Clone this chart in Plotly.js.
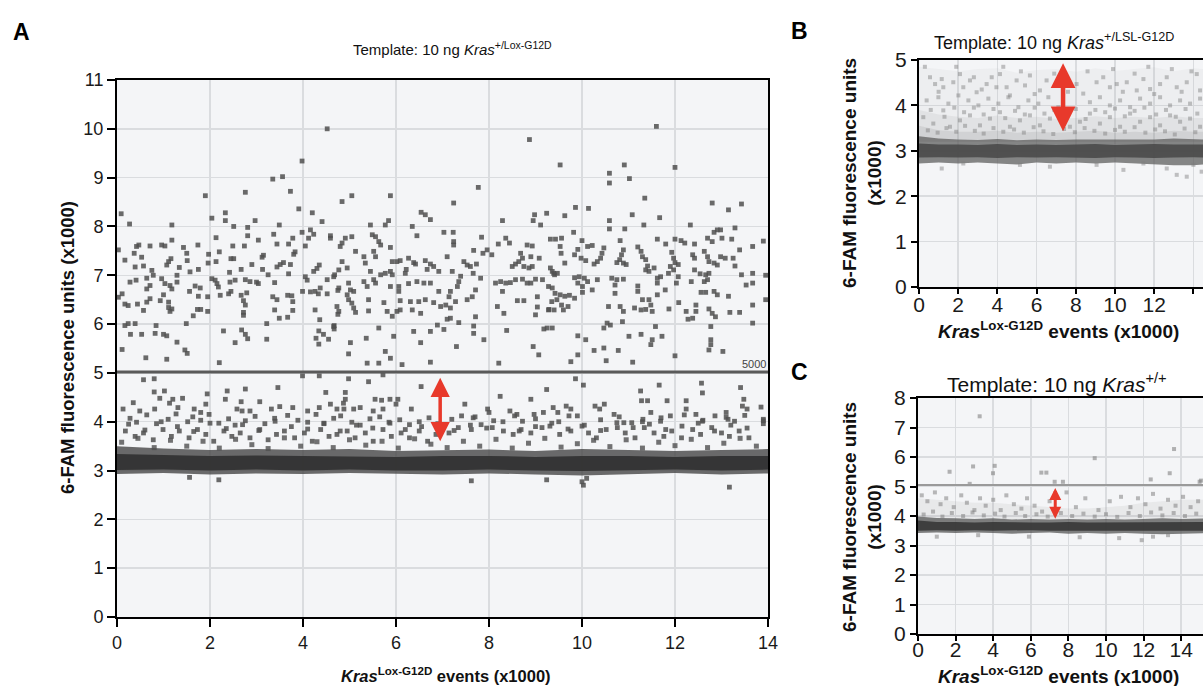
<!DOCTYPE html>
<html><head><meta charset="utf-8">
<script src="https://cdn.plot.ly/plotly-3.0.1.min.js"></script>
<style>html,body{margin:0;padding:0;background:#fff}#chart{width:1203px;height:686px}</style>
</head><body><div id="chart"></div>
<script>
// ---------- Panel A data ----------
const aTitle = "Template: 10 ng <i>Kras</i><sup>+/Lox-G12D</sup>";
const aThreshold = 5.02;
const aThresholdLabel = "5000";
const aBandX =   [0,1,2,3,4,5,6,7,8,9,10,11,12,13,14];
const aOuterTop = [3.5,3.45,3.42,3.44,3.42,3.44,3.4,3.42,3.43,3.4,3.44,3.42,3.4,3.42,3.44];
const aOuterBot = [2.93,2.95,2.92,2.94,2.93,2.95,2.93,2.92,2.94,2.92,2.9,2.93,2.95,2.92,2.94];
const aCoreTop =  [3.34,3.32,3.3,3.31,3.3,3.3,3.28,3.3,3.3,3.28,3.3,3.3,3.28,3.3,3.3];
const aCoreBot =  [3.01,3.02,3.0,3.02,3.0,3.02,3.0,3.0,3.02,3.0,2.99,3.0,3.02,3.0,3.02];
// upper (mutant-positive) cluster
const aUpperLeft = [[4.52,10.0],[3.98,9.34],[3.35,8.97],[3.56,9.02],[3.73,8.72],[2.76,8.70],[1.90,8.63],[3.91,8.36],[4.20,8.28],[2.33,8.28],[2.33,8.12],[2.04,8.17],[2.97,8.12],[4.41,8.10],[0.09,8.26],[0.27,8.05],[1.18,8.03],[2.51,8.0],[2.81,7.98],[2.81,7.81],[3.49,8.03],[3.37,7.84],[3.98,7.88],[4.16,7.93],[4.23,7.84],[4.12,7.76],[4.59,7.76],[2.13,7.77],[1.18,7.72],[0.47,7.62],[0.42,7.59],[0.71,7.6],[0.96,7.62],[1.03,7.6],[1.43,7.57],[1.74,7.62],[2.49,7.6],[2.74,7.6],[3.04,7.72],[3.44,7.64],[3.69,7.64],[3.78,7.76],[4.05,7.6],[3.83,7.48],[3.80,7.43],[0.37,7.45],[0.53,7.37],[1.50,7.45],[1.97,7.43],[2.20,7.48],[3.15,7.41],[3.12,7.37],[0.17,7.31],[1.16,7.34],[1.11,7.28],[1.07,7.21],[1.51,7.3],[2.45,7.34],[2.51,7.34],[1.96,7.25],[2.13,7.28],[0.39,7.17],[0.57,7.19],[0.75,7.1],[0.78,7.0],[1.34,7.16],[2.67,7.12],[2.90,7.22],[3.13,7.12],[3.44,7.17],[3.51,7.22],[3.58,7.26],[3.73,7.22],[4.35,7.21],[4.3,7.14],[4.23,7.08],[1.57,7.07],[1.75,7.12],[1.29,7.0],[2.42,7.06],[3.25,7.01],[3.69,7.03],[4.05,6.97],[4.09,6.9],[4.52,6.91],[4.66,6.97],[0.28,6.86],[0.41,6.9],[0.64,6.94],[0.96,6.93],[1.03,6.83],[2.04,6.93],[2.11,6.9],[2.15,6.83],[2.18,6.76],[2.43,6.86],[2.54,6.9],[2.76,6.91],[2.86,6.87],[3.0,6.86],[3.04,6.83],[3.39,6.85],[0.71,6.79],[0.64,6.72],[1.14,6.79],[1.18,6.72],[1.29,6.86],[1.56,6.67],[1.68,6.78],[1.79,6.74],[2.40,6.62],[2.45,6.67],[2.79,6.64],[3.99,6.67],[4.16,6.66],[4.26,6.67],[4.33,6.62],[4.37,6.74],[4.52,6.62],[4.75,6.69],[0.11,6.62],[0.17,6.41],[0.24,6.38],[0.44,6.41],[0.57,6.28],[0.64,6.45],[0.71,6.52],[0.93,6.48],[1.0,6.6],[1.11,6.45],[1.11,6.34],[1.14,6.26],[1.18,6.31],[1.75,6.57],[1.95,6.56],[1.73,6.3],[1.80,6.3],[1.95,6.26],[1.64,6.17],[2.22,6.59],[2.67,6.59],[2.72,6.48],[2.76,6.39],[2.72,6.24],[2.72,6.18],[3.35,6.56],[3.44,6.5],[3.39,6.29],[3.49,6.12],[3.67,6.59],[3.76,6.58],[3.78,6.46],[3.78,6.28],[3.67,6.14],[4.26,6.29],[4.36,6.09],[4.75,6.2],[0.17,5.97],[0.24,6.01],[0.39,6.01],[0.84,5.97],[1.49,6.01],[3.22,6.01],[4.67,5.9],[4.67,5.97],[0.29,5.79],[0.53,5.79],[0.82,5.81],[1.0,5.79],[1.07,5.76],[1.29,5.63],[1.46,5.47],[1.51,5.4],[2.29,5.86],[2.68,5.88],[2.76,5.79],[2.81,5.7],[2.54,5.62],[3.22,5.69],[4.34,5.86],[4.44,5.79],[4.55,5.69],[4.28,5.71],[4.34,5.59],[0.11,5.48],[0.62,5.31],[1.07,5.28],[2.2,5.21],[0.03,7.52],[0.03,6.55]];
const aUpperMid = [[8.87,9.78],[7.77,8.80],[4.84,8.51],[5.05,8.63],[5.88,8.63],[7.24,8.48],[6.54,8.29],[6.63,8.24],[6.74,8.14],[8.29,8.12],[8.98,8.24],[8.95,8.12],[9.11,8.03],[9.24,8.27],[5.45,8.03],[5.77,8.03],[5.84,8.12],[6.35,8.0],[6.45,7.81],[7.03,7.88],[7.23,7.88],[7.24,7.69],[7.24,7.62],[7.84,7.78],[8.2,7.64],[8.36,7.76],[8.44,7.66],[8.82,7.62],[8.93,7.6],[9.43,7.74],[4.59,7.81],[4.91,7.76],[4.84,7.66],[4.8,7.59],[5.05,7.79],[5.49,7.83],[5.56,7.79],[5.63,7.69],[5.67,7.62],[5.88,7.57],[5.13,7.49],[5.52,7.49],[5.56,7.38],[5.31,7.38],[5.34,7.25],[4.84,7.28],[7.1,7.38],[7.67,7.51],[7.87,7.45],[7.96,7.52],[8.06,7.42],[8.68,7.45],[8.72,7.35],[8.64,7.28],[8.57,7.23],[8.5,7.18],[9.08,7.35],[8.9,7.38],[5.92,7.28],[6.02,7.28],[6.09,7.3],[6.27,7.35],[6.38,7.26],[6.63,7.3],[6.74,7.23],[6.81,7.18],[7.46,7.28],[7.53,7.21],[7.6,7.18],[7.73,7.23],[4.68,7.01],[4.77,7.11],[4.95,7.15],[5.45,7.08],[5.67,7.01],[5.77,7.04],[5.88,7.08],[5.92,7.01],[6.22,7.12],[6.2,7.04],[6.42,7.23],[6.67,7.12],[6.92,7.08],[7.21,7.08],[7.39,6.98],[7.35,6.87],[7.32,6.77],[7.66,7.04],[7.82,6.94],[8.14,6.84],[8.25,6.87],[8.36,6.84],[8.46,6.85],[8.57,6.91],[8.72,6.92],[8.82,6.84],[8.9,6.84],[9.0,6.92],[9.15,6.91],[9.36,7.08],[9.41,7.01],[9.47,7.04],[8.75,7.18],[8.86,7.15],[8.93,7.18],[4.77,6.74],[4.98,6.84],[5.02,6.7],[4.95,6.6],[5.09,6.67],[5.31,6.87],[5.38,6.77],[5.52,6.91],[5.56,6.84],[5.88,6.77],[6.06,6.77],[6.06,6.67],[6.27,6.83],[6.45,6.87],[6.6,6.84],[6.74,6.84],[6.92,6.67],[7.17,6.67],[7.14,6.56],[7.53,6.5],[7.64,6.56],[7.71,6.7],[8.29,6.67],[9.36,6.74],[4.98,6.5],[5.05,6.43],[5.09,6.33],[5.13,6.24],[4.73,6.36],[4.77,6.26],[5.41,6.5],[5.41,6.27],[5.74,6.44],[5.81,6.26],[5.92,6.16],[6.02,6.26],[6.09,6.29],[6.09,6.48],[6.31,6.46],[6.49,6.46],[6.63,6.5],[6.81,6.44],[6.96,6.36],[6.35,6.29],[6.53,6.22],[7.07,6.39],[7.17,6.33],[7.28,6.46],[7.71,6.15],[8.18,6.36],[8.32,6.22],[8.61,6.48],[8.75,6.48],[9.04,6.56],[9.04,6.35],[9.0,6.19],[9.29,6.3],[9.4,6.29],[4.66,5.95],[5.63,5.92],[5.95,5.75],[5.36,5.71],[5.02,5.62],[4.98,5.39],[6.38,5.85],[6.53,5.62],[6.74,5.85],[6.89,5.98],[7.03,5.89],[7.1,6.1],[7.17,6.12],[7.35,6.03],[7.67,5.96],[7.67,5.81],[7.89,5.68],[7.3,5.54],[8.38,5.87],[9.18,5.9],[9.36,5.92],[8.95,5.54],[9.07,5.37],[5.63,5.2],[5.38,5.2],[5.77,5.44],[5.88,5.3],[6.13,5.17],[6.74,5.22],[8.21,5.2]];
const aUpperRight = [[11.6,10.05],[9.53,9.26],[10.91,9.26],[12.0,9.21],[10.59,9.09],[10.59,8.89],[11.02,8.98],[11.35,8.58],[12.8,8.48],[13.43,8.46],[13.15,8.34],[9.86,8.39],[10.14,8.37],[9.63,8.22],[11.08,8.24],[11.67,8.18],[10.59,8.12],[10.59,7.95],[10.92,7.95],[11.33,8.03],[12.33,8.03],[12.91,7.93],[12.98,7.93],[12.84,7.88],[13.29,7.97],[9.82,7.88],[9.32,7.74],[9.56,7.76],[10.0,7.71],[10.12,7.59],[10.22,7.61],[9.91,7.53],[9.84,7.42],[9.53,7.59],[9.55,7.45],[10.82,7.71],[11.62,7.74],[11.8,7.64],[12.0,7.74],[12.13,7.71],[12.21,7.66],[12.42,7.64],[12.7,7.76],[12.8,7.69],[13.01,7.76],[13.22,7.74],[13.39,7.52],[13.67,7.59],[10.47,7.56],[10.43,7.45],[10.4,7.35],[10.33,7.28],[10.26,7.23],[9.98,7.35],[10.08,7.3],[10.89,7.52],[10.85,7.42],[10.81,7.32],[10.89,7.25],[10.95,7.22],[10.75,7.26],[11.2,7.58],[11.27,7.49],[11.3,7.38],[11.37,7.32],[11.41,7.19],[11.93,7.47],[11.97,7.35],[12.0,7.26],[12.07,7.22],[12.38,7.42],[12.42,7.35],[12.63,7.49],[12.7,7.38],[12.73,7.28],[12.98,7.38],[13.08,7.35],[12.91,7.21],[12.84,7.25],[13.25,7.35],[13.29,7.19],[9.63,7.25],[9.32,7.15],[9.39,7.04],[11.37,7.11],[11.44,7.08],[11.55,7.15],[11.9,7.18],[11.97,7.11],[11.86,7.04],[12.42,7.11],[12.54,7.03],[12.66,7.01],[12.73,7.04],[13.43,7.01],[13.67,7.04],[9.84,6.95],[9.94,6.97],[10.05,6.94],[10.12,6.87],[10.33,6.91],[10.64,6.94],[10.75,6.91],[10.89,6.92],[11.62,6.94],[11.69,6.97],[11.62,6.84],[12.07,6.97],[12.03,6.84],[12.35,6.87],[12.63,6.87],[12.7,6.91],[13.53,6.8],[13.67,6.84],[9.28,6.77],[9.91,6.84],[10.01,6.77],[10.22,6.7],[10.71,6.8],[10.71,6.63],[11.2,6.78],[11.2,6.67],[11.79,6.7],[11.62,6.6],[9.42,6.63],[9.53,6.6],[9.63,6.57],[9.73,6.59],[9.84,6.53],[10.01,6.65],[12.56,6.65],[12.66,6.65],[12.84,6.67],[12.91,6.6],[13.15,6.57],[9.35,6.46],[9.46,6.5],[9.56,6.39],[9.6,6.29],[9.7,6.36],[9.28,6.29],[10.57,6.36],[10.82,6.36],[10.89,6.26],[11.13,6.33],[11.3,6.5],[11.44,6.5],[11.48,6.39],[11.51,6.26],[11.27,6.29],[11.37,6.3],[11.87,6.31],[12.08,6.44],[12.24,6.26],[12.28,6.1],[12.38,6.12],[12.45,6.39],[12.45,6.26],[12.73,6.31],[12.8,6.22],[12.87,6.15],[13.18,6.24],[13.39,6.24],[13.67,6.39],[13.67,6.02],[9.25,5.92],[10.87,6.05],[10.54,6.02],[10.61,5.98],[10.47,5.92],[11.58,5.95],[12.77,5.95],[11.27,5.79],[11.01,5.75],[11.51,5.68],[11.48,5.58],[11.72,5.75],[9.91,5.76],[10.08,5.68],[12.77,5.68],[12.77,5.58],[12.73,5.47],[13.03,5.44],[10.47,5.51],[10.26,5.46],[10.78,5.46],[9.91,5.37],[9.76,5.23],[10.52,5.25],[11.09,5.22],[12.0,5.35],[13.95,7.0],[13.95,6.5],[13.9,7.7]];
// lower (wild-type) scatter above the dense band
const aLowerSparse = [[0.57,4.86],[0.8,4.88],[3.46,4.7],[3.99,4.94],[4.35,4.94],[4.98,4.88],[5.41,4.82],[5.72,4.96],[6.54,4.72],[0.8,4.61],[1.02,4.63],[0.92,4.48],[1.13,4.38],[1.2,4.46],[1.41,4.48],[1.94,4.57],[2.37,4.63],[2.33,4.46],[2.76,4.67],[2.67,4.41],[3.07,4.41],[4.49,4.6],[4.91,4.6],[4.91,4.46],[4.87,4.38],[5.55,4.46],[5.69,4.44],[5.87,4.46],[6.04,4.46],[0.35,4.39],[0.13,4.26],[0.49,4.22],[0.81,4.26],[1.31,4.29],[1.66,4.26],[1.8,4.19],[1.91,4.36],[2.58,4.26],[2.69,4.22],[2.86,4.22],[3.32,4.26],[3.5,4.31],[3.78,4.29],[4.1,4.22],[4.35,4.29],[4.59,4.36],[4.73,4.26],[4.88,4.26],[5.09,4.26],[5.23,4.29],[5.51,4.22],[5.72,4.26],[6.0,4.36],[6.33,4.26],[9.86,4.88],[10.03,4.75],[9.24,4.66],[8.24,4.52],[8.9,4.46],[11.26,4.63],[11.66,4.75],[11.83,4.43],[11.28,4.43],[11.41,4.43],[12.57,4.79],[12.59,4.59],[12.24,4.43],[12.24,4.26],[13.41,4.7],[13.48,4.46],[13.45,4.32],[13.55,4.26],[7.48,4.36],[7.41,4.12],[7.66,4.08],[7.97,4.26],[8.0,4.19],[8.45,4.22],[8.55,4.12],[8.72,4.01],[8.97,4.15],[9.17,4.19],[9.38,4.29],[9.48,4.19],[9.66,4.32],[9.76,4.26],[9.72,4.12],[10.28,4.32],[10.38,4.26],[10.48,4.36],[10.69,4.15],[10.9,3.98],[11.07,3.98],[11.31,4.05],[11.48,4.19],[11.69,4.01],[11.9,4.12],[12.45,4.15],[12.59,4.01],[12.86,4.12],[13.1,4.19],[13.14,4.05],[13.28,4.01],[13.85,4.3],[13.9,4.05]];
const aRow1X = [0.28,0.42,0.64,0.85,1.1,1.27,1.52,1.63,1.8,1.98,2.19,2.4,2.54,2.76,2.97,3.18,3.39,3.67,3.89,4.1,4.28,4.45,4.66,4.81,5.05,5.23,5.44,5.65,5.87,6.08,6.29,6.5,6.71];
const aRow1Y = [4.07,3.99,4.14,3.96,4.05,4.16,4.0,4.1,4.03,4.15,3.97,4.06,3.93,4.02,4.11,3.96,4.07,4.13,4.03,3.99,4.15,3.96,4.07,4.12,3.99,3.93,4.06,4.1,3.97,4.04,3.94,4.0,4.08];
const aRow2X = [0.18,0.39,0.57,0.78,0.99,1.17,1.34,1.55,1.73,1.91,2.08,2.3,2.47,2.65,2.86,3.07,3.25,3.43,3.6,3.82,4.03,4.2,4.38,4.56,4.73,4.95,5.12,5.34,5.51,5.72,5.9,6.11,6.29,6.5,6.68,6.86,7.14,7.34,7.62,7.83,8.07,8.31,8.52,8.69,8.9,9.14,9.31,9.52,9.76,10.0,10.14,10.31,10.52,10.76,10.93,11.14,11.34,11.55,11.76,11.93,12.14,12.38,12.55,12.79,13.0,13.17,13.38,13.59];
const aRow2Y = [3.81,3.70,3.77,3.63,3.84,3.70,3.81,3.67,3.84,3.74,3.60,3.81,3.70,3.77,3.67,3.84,3.63,3.74,3.81,3.67,3.77,3.60,3.84,3.70,3.74,3.81,3.67,3.77,3.60,3.84,3.70,3.77,3.67,3.81,3.60,3.74,3.77,3.88,3.84,3.94,3.88,3.81,3.74,3.84,3.77,3.88,3.91,3.74,3.81,3.91,3.77,3.67,3.84,3.88,3.77,3.67,3.88,3.77,3.70,3.81,3.67,3.84,3.74,3.88,3.77,3.70,3.81,3.67];
const aRow3X = [0.1,0.45,0.8,1.15,1.5,1.85,2.2,2.55,2.9,3.25,3.6,3.95,4.3,4.65,5.0,5.35,5.7,6.05,6.4,6.75,7.1,7.45,7.8,8.15,8.5,8.85,9.2,9.55,9.9,10.25,10.6,10.95,11.3,11.65,12.0,12.35,12.7,13.05,13.4,13.75];
const aRow3Y = [3.58,3.66,3.47,3.62,3.5,3.6,3.46,3.64,3.53,3.45,3.67,3.5,3.59,3.47,3.63,3.52,3.6,3.46,3.65,3.54,3.47,3.6,3.5,3.64,3.46,3.56,3.66,3.48,3.55,3.62,3.49,3.63,3.46,3.58,3.51,3.64,3.47,3.56,3.66,3.5];
const aRow4X = [0.25,0.6,0.95,1.3,1.65,2.0,2.35,2.7,3.05,3.4,3.75,4.1,4.45,4.8,5.15,5.5,5.85,6.2,6.55,6.9,7.25,7.6,7.95,8.3,8.65,9.0,9.35,9.7,10.05,10.4,10.75,11.1,11.45,11.8,12.15,12.5,12.85,13.2,13.55,13.9];
const aRow4Y = [3.95,3.83,4.0,3.9,3.8,3.97,3.86,3.94,3.82,4.01,3.9,3.85,3.97,3.81,3.93,3.87,3.99,3.84,3.9,3.96,3.82,3.93,3.87,4.0,3.81,3.9,3.97,3.85,3.93,3.82,3.98,3.88,3.95,3.84,3.91,3.97,3.81,3.93,3.87,3.96];
const aRow5X = [7.2,7.7,8.1,8.6,9.0,9.5,9.9,10.4,10.8,11.3,11.7,12.2,12.6,13.1,13.5,13.9];
const aRow5Y = [4.05,4.1,4.02,4.15,4.06,4.0,4.12,4.04,4.1,4.0,4.08,4.14,4.03,4.09,4.13,4.02];
const aBelow = [[1.56,2.86],[2.19,2.81],[7.62,2.79],[9.24,2.81],[10.0,2.77],[10.1,2.84],[10.03,2.7],[13.17,2.66]];
const aArrow = {x:6.95, yTop:4.9, yBottom:3.57};

// ---------- Panel B data ----------
const bTitle = "Template: 10 ng <i>Kras</i><sup>+/LSL-G12D</sup>";
const bBandX =   [0,1,2,3,4,5,6,7,8,9,10,11,12,13,14,14.5];
const bOuterTop = [3.32,3.27,3.25,3.24,3.26,3.23,3.25,3.24,3.25,3.25,3.24,3.25,3.25,3.27,3.25,3.25];
const bOuterBot = [2.72,2.74,2.72,2.74,2.72,2.7,2.74,2.72,2.74,2.72,2.74,2.72,2.7,2.68,2.68,2.7];
const bCoreTop =  [3.16,3.14,3.14,3.13,3.15,3.13,3.14,3.13,3.14,3.15,3.13,3.14,3.15,3.14,3.13,3.14];
const bCoreBot =  [2.85,2.86,2.85,2.86,2.84,2.86,2.85,2.86,2.85,2.84,2.86,2.85,2.84,2.85,2.86,2.85];
const bNear1Top = [3.55,3.45,3.42,3.42,3.44,3.4,3.42,3.4,3.42,3.44,3.4,3.42,3.4,3.44,3.42,3.42];
const bNear2Top = [3.9,3.8,3.75,3.72,3.78,3.72,3.75,3.7,3.72,3.76,3.72,3.75,3.72,3.76,3.72,3.72];
const bFarTop =   [4.85,4.8,4.75,4.8,4.82,4.72,4.78,4.8,4.74,4.82,4.76,4.8,4.84,4.75,4.82,4.8];
const bHaloBot =  [3.2,3.2,3.2,3.2,3.2,3.2,3.2,3.2,3.2,3.2,3.2,3.2,3.2,3.2,3.2,3.2];
const bCloud = [[0.56,4.62],[1.16,4.58],[0.82,4.47],[1.24,4.40],[1.75,4.51],[2.26,4.40],[2.6,4.55],[2.09,4.69],[2.94,4.29],[3.45,4.47],[3.71,4.62],[4.13,4.69],[4.47,4.40],[4.64,4.22],[4.98,4.55],[5.41,4.44],[5.66,4.66],[6.17,4.33],[6.51,4.55],[8.04,4.47],[8.38,4.26],[9.06,4.51],[9.4,4.62],[9.74,4.40],[10.09,4.47],[10.6,4.51],[11.11,4.33],[11.45,4.58],[11.79,4.36],[12.3,4.47],[12.64,4.62],[13.15,4.40],[13.66,4.51],[14.17,4.69],[14.34,4.33],[0.39,4.11],[0.99,4.18],[1.5,4.04],[2.01,4.22],[2.52,4.11],[3.03,4.0],[3.54,4.15],[4.05,4.04],[4.56,4.18],[5.07,3.96],[5.58,4.11],[6.09,4.04],[6.6,4.18],[7.11,3.96],[8.72,4.07],[9.23,4.18],[9.74,4.0],[10.26,4.11],[10.77,3.96],[11.28,4.15],[11.79,4.04],[12.3,4.18],[12.81,4.0],[13.32,4.11],[13.83,4.04],[14.34,4.15],[0.22,3.74],[0.73,3.6],[1.24,3.89],[1.58,3.53],[2.09,3.67],[2.6,3.78],[3.11,3.56],[3.62,3.71],[4.13,3.85],[4.64,3.53],[5.15,3.67],[5.66,3.78],[6.17,3.56],[6.68,3.71],[7.19,3.85],[7.7,3.53],[8.21,3.64],[8.72,3.82],[9.23,3.6],[9.74,3.74],[10.26,3.53],[10.77,3.82],[11.28,3.64],[11.79,3.74],[12.3,3.56],[12.81,3.78],[13.32,3.64],[13.83,3.71],[14.34,3.53],[1.16,2.61],[2.26,2.72],[5.15,2.69],[6.68,2.65],[9.06,2.69],[10.43,2.58],[11.45,2.72],[12.64,2.61],[13.15,2.47],[13.66,2.43],[14.0,2.69],[14.42,2.54]];
const bCloudExtra = [[0.45,3.45],[0.95,3.4],[1.4,3.5],[1.9,3.42],[2.35,3.55],[2.85,3.44],[3.3,3.38],[3.8,3.5],[4.3,3.42],[4.85,3.47],[5.35,3.4],[5.85,3.52],[6.35,3.43],[6.85,3.37],[7.4,3.48],[7.95,3.41],[8.45,3.5],[8.95,3.44],[9.5,3.38],[10.0,3.46],[10.5,3.42],[11.0,3.52],[11.55,3.4],[12.05,3.47],[12.55,3.43],[13.05,3.36],[13.55,3.49],[14.1,3.41],[0.3,4.85],[1.0,4.3],[1.9,4.85],[2.8,4.62],[3.2,4.35],[3.95,4.4],[4.3,4.85],[5.2,4.75],[5.9,4.25],[6.9,4.7],[7.6,4.3],[8.6,4.75],[9.9,4.8],[10.4,4.3],[11.0,4.7],[11.7,4.85],[12.0,4.25],[12.9,4.8],[13.4,4.3],[13.9,4.75],[0.6,3.9],[1.3,3.75],[1.8,3.95],[2.3,3.85],[2.8,3.95],[3.3,3.8],[3.8,3.92],[4.4,3.72],[4.9,3.88],[5.4,3.8],[5.9,3.95],[6.4,3.82],[6.9,3.9],[7.5,3.78],[8.0,3.92],[8.5,3.7],[9.0,3.9],[9.5,3.85],[10.0,3.93],[10.5,3.76],[11.0,3.88],[11.5,3.95],[12.1,3.8],[12.6,3.9],[13.1,3.75],[13.6,3.92],[14.2,3.82]];
const bArrow = {x:7.35, yTop:4.93, yBottom:3.4};

// ---------- Panel C data ----------
const cTitle = "Template: 10 ng <i>Kras</i><sup>+/+</sup>";
const cThreshold = 5.05;
const cBandX =   [0,1,2,3,4,5,6,7,8,9,10,11,12,13,14,15.2];
const cOuterTop = [3.98,3.93,3.92,3.9,3.92,3.88,3.9,3.88,3.9,3.88,3.9,3.88,3.9,3.92,3.9,3.92];
const cOuterBot = [3.42,3.44,3.42,3.44,3.42,3.4,3.42,3.44,3.4,3.42,3.4,3.42,3.4,3.38,3.4,3.42];
const cCoreTop =  [3.85,3.8,3.8,3.78,3.8,3.78,3.78,3.78,3.8,3.78,3.78,3.78,3.8,3.8,3.78,3.8];
const cCoreBot =  [3.5,3.52,3.5,3.52,3.5,3.5,3.52,3.5,3.5,3.48,3.5,3.5,3.48,3.5,3.5,3.5];
const cHaloTop =  [4.6,4.55,4.5,4.45,4.45,4.4,4.35,4.3,4.25,4.25,4.3,4.35,4.45,4.5,4.55,4.55];
const cHaloBot =  [3.85,3.85,3.85,3.85,3.85,3.85,3.85,3.85,3.85,3.85,3.85,3.85,3.85,3.85,3.85,3.85];
const cOutliers = [[3.28,7.38],[1.68,5.5],[2.93,5.68],[4.08,5.7],[3.99,5.45],[6.56,5.47],[6.83,5.47],[9.4,5.96],[13.62,6.27],[13.39,5.45],[12.38,5.24],[7.71,5.16],[7.27,5.16],[2.75,5.09],[14.98,5.16],[15.05,5.2]];
const cCloud = [[0.2,4.7],[0.5,4.5],[0.9,4.8],[1.2,4.4],[1.5,4.6],[1.9,4.3],[2.3,4.7],[2.6,4.45],[3.0,4.2],[3.3,4.6],[3.6,4.35],[4.0,4.55],[4.4,4.2],[4.7,4.7],[5.1,4.4],[5.5,4.25],[5.8,4.6],[6.2,4.35],[6.6,4.15],[7.0,4.5],[7.9,4.8],[8.4,4.3],[8.9,4.6],[9.6,4.2],[10.2,4.5],[10.8,4.65],[11.3,4.3],[11.7,4.6],[12.1,4.4],[12.5,4.75],[12.9,4.25],[13.3,4.55],[13.7,4.35],[14.1,4.65],[14.5,4.3],[14.9,4.5],[0.3,4.05],[0.8,4.15],[1.3,3.98],[1.8,4.1],[2.4,4.0],[2.9,4.12],[3.5,4.02],[4.1,4.08],[4.6,3.98],[5.2,4.1],[5.7,4.0],[6.3,4.06],[6.9,3.98],[7.6,4.1],[8.2,4.0],[8.8,4.08],[9.4,3.98],[10.0,4.06],[10.6,3.97],[11.2,4.1],[11.8,4.0],[12.4,4.12],[13.0,4.02],[13.6,4.1],[14.2,4.0],[14.8,4.08],[1.0,3.3],[3.2,3.35],[5.9,3.3],[8.6,3.28],[10.7,3.25],[11.9,3.18],[12.5,3.3],[13.3,3.35]];
const cArrow = {x:7.3, yTop:4.95, yBottom:3.86};

const yTitleText = "6-FAM fluorescence units (x1000)";
const xTitleText = "<i>Kras</i><sup>Lox-G12D</sup> events (x1000)";

// ---------- build ----------
const W = 1203, H = 686;
const px = v => v / W, py = v => 1 - v / H;
const FONT = 'Liberation Sans, Arial, Helvetica, sans-serif';

function band(xs, top, bot, color, xa, ya) {
  return {x: xs.concat(xs.slice().reverse()), y: top.concat(bot.slice().reverse()),
    xaxis: xa, yaxis: ya, mode: 'lines', fill: 'toself', fillcolor: color,
    line: {width: 0}, hoverinfo: 'skip', showlegend: false, type: 'scatter'};
}
function pts(pairs, color, size, xa, ya) {
  return {x: pairs.map(p => p[0]), y: pairs.map(p => p[1]), xaxis: xa, yaxis: ya,
    mode: 'markers', type: 'scatter', showlegend: false,
    marker: {symbol: 'square', size: size, color: color, line: {width: 0}}};
}
function zip(xs, ys) { return xs.map((v, i) => [v, ys[i]]); }

const aAll = aUpperLeft.concat(aUpperMid, aUpperRight, aLowerSparse, zip(aRow1X, aRow1Y), zip(aRow2X, aRow2Y), zip(aRow4X, aRow4Y), zip(aRow5X, aRow5Y), aBelow);

const traces = [
  band(aBandX, aOuterTop, aOuterBot, 'rgba(70,70,70,0.8)', 'x', 'y'),
  band(aBandX, aCoreTop, aCoreBot, 'rgba(45,45,45,0.85)', 'x', 'y'),
  pts(zip(aRow3X, aRow3Y), 'rgba(80,80,80,0.8)', 5, 'x', 'y'),
  pts(aAll, 'rgba(80,80,80,0.85)', 4.8, 'x', 'y'),
  band(bBandX, bFarTop, bHaloBot, 'rgba(150,150,150,0.07)', 'x2', 'y2'),
  band(bBandX, bNear2Top, bHaloBot, 'rgba(130,130,130,0.10)', 'x2', 'y2'),
  band(bBandX, bNear1Top, bHaloBot, 'rgba(120,120,120,0.15)', 'x2', 'y2'),
  band(bBandX, bOuterTop, bOuterBot, 'rgba(95,95,95,0.75)', 'x2', 'y2'),
  band(bBandX, bCoreTop, bCoreBot, 'rgba(70,70,70,0.85)', 'x2', 'y2'),
  pts(bCloud.concat(bCloudExtra), 'rgba(125,125,125,0.45)', 4, 'x2', 'y2'),
  band(cBandX, cHaloTop, cHaloBot, 'rgba(140,140,140,0.11)', 'x3', 'y3'),
  band(cBandX, cOuterTop, cOuterBot, 'rgba(85,85,85,0.75)', 'x3', 'y3'),
  band(cBandX, cCoreTop, cCoreBot, 'rgba(50,50,50,0.85)', 'x3', 'y3'),
  pts(cCloud, 'rgba(120,120,120,0.5)', 4, 'x3', 'y3'),
  pts(cOutliers, 'rgba(130,130,130,0.6)', 4, 'x3', 'y3')
];

function axisBase(extra) {
  return Object.assign({
    showline: true, linecolor: '#000', linewidth: 2, ticks: 'outside', ticklen: 8,
    tickwidth: 2, tickcolor: '#000', showgrid: true, gridcolor: '#dadcdf', gridwidth: 1.5,
    zeroline: false, tickfont: {family: FONT, size: 18, color: '#1a1a1a'}, fixedrange: true
  }, extra);
}
const bigTick = {family: FONT, size: 21, color: '#1a1a1a'};

const layout = {
  width: W, height: H, margin: {l: 0, r: 0, t: 0, b: 0},
  paper_bgcolor: '#ffffff', plot_bgcolor: '#f4f5f7', showlegend: false,
  font: {family: FONT, color: '#111'},
  xaxis: axisBase({domain: [px(117), px(768)], range: [0, 14], dtick: 2, tick0: 0, mirror: true, anchor: 'y'}),
  yaxis: axisBase({domain: [py(617), py(80)], range: [0, 11], dtick: 1, tick0: 0, mirror: true, anchor: 'x'}),
  xaxis2: axisBase({domain: [px(919), 1], range: [0, 14.49], dtick: 2, tick0: 0, mirror: true, anchor: 'y2', ticklen: 5, ticklabelstandoff: -7, tickfont: bigTick}),
  yaxis2: axisBase({domain: [py(287), py(60)], range: [0, 5], dtick: 1, tick0: 0, anchor: 'x2', ticklen: 6, tickfont: bigTick}),
  xaxis3: axisBase({domain: [px(918), 1], range: [0, 15.16], dtick: 2, tick0: 0, mirror: true, anchor: 'y3', ticklen: 5, ticklabelstandoff: -9, tickfont: bigTick}),
  yaxis3: axisBase({domain: [py(634), py(398)], range: [0, 8], dtick: 1, tick0: 0, anchor: 'x3', ticklen: 6, tickfont: bigTick}),
  shapes: [
    {type: 'line', xref: 'x domain', x0: 0, x1: 1, yref: 'y', y0: aThreshold, y1: aThreshold, line: {color: '#5a5a5a', width: 3}},
    {type: 'line', xref: 'x3 domain', x0: 0, x1: 1, yref: 'y3', y0: cThreshold, y1: cThreshold, line: {color: '#9a9a9a', width: 2}}
  ],
  annotations: []
};

function ann(o) { layout.annotations.push(Object.assign({showarrow: false, xref: 'paper', yref: 'paper'}, o)); }
// panel letters
ann({text: '<b>A</b>', x: px(11), y: py(32), xanchor: 'left', yanchor: 'middle', font: {size: 23, family: FONT, color: '#000'}});
ann({text: '<b>B</b>', x: px(789), y: py(31), xanchor: 'left', yanchor: 'middle', font: {size: 23, family: FONT, color: '#000'}});
ann({text: '<b>C</b>', x: px(789), y: py(372), xanchor: 'left', yanchor: 'middle', font: {size: 23, family: FONT, color: '#000'}});
// titles
ann({text: aTitle, x: px(452), y: py(49), xanchor: 'center', yanchor: 'middle', font: {size: 15, family: FONT, color: '#111'}});
ann({text: bTitle, x: px(1054), y: py(42), xanchor: 'center', yanchor: 'middle', font: {size: 18, family: FONT, color: '#111'}});
ann({text: cTitle, x: px(1057), y: py(383), xanchor: 'center', yanchor: 'middle', font: {size: 21, family: FONT, color: '#111'}});
// axis titles
ann({text: '<b>' + yTitleText + '</b>', x: px(67), y: py(348), textangle: -90, xanchor: 'center', yanchor: 'middle', font: {size: 18.5, family: FONT, color: '#111'}});
ann({text: '<b>' + xTitleText + '</b>', x: px(446), y: py(675), xanchor: 'center', yanchor: 'middle', font: {size: 16.5, family: FONT, color: '#111'}});
ann({text: '<b>6-FAM fluorescence units<br>(x1000)</b>', x: px(862), y: py(173), textangle: -90, xanchor: 'center', yanchor: 'middle', font: {size: 19, family: FONT, color: '#111'}});
ann({text: '<b>' + xTitleText + '</b>', x: px(1058), y: py(330), xanchor: 'center', yanchor: 'middle', font: {size: 19, family: FONT, color: '#111'}});
ann({text: '<b>6-FAM fluorescence units<br>(x1000)</b>', x: px(862), y: py(517), textangle: -90, xanchor: 'center', yanchor: 'middle', font: {size: 19, family: FONT, color: '#111'}});
ann({text: '<b>' + xTitleText + '</b>', x: px(1058), y: py(675), xanchor: 'center', yanchor: 'middle', font: {size: 19, family: FONT, color: '#111'}});
// threshold label
layout.annotations.push({text: aThresholdLabel, xref: 'x', yref: 'y', x: 14, y: aThreshold, xanchor: 'right', yanchor: 'bottom', showarrow: false, font: {size: 11, family: FONT, color: '#444'}});
// red double arrows
function dbl(a, xr, yr, w, s) {
  layout.annotations.push({text: '', xref: xr, yref: yr, axref: xr, ayref: yr, x: a.x, y: a.yTop, ax: a.x, ay: a.yBottom,
    showarrow: true, arrowside: 'end+start', arrowhead: 2, startarrowhead: 2, arrowsize: s, startarrowsize: s,
    arrowwidth: w, arrowcolor: '#e8392b', standoff: 0, startstandoff: 0});
}
dbl(aArrow, 'x', 'y', 3.5, 1.1);
dbl(bArrow, 'x2', 'y2', 4.5, 1.1);
dbl(cArrow, 'x3', 'y3', 3, 0.8);

Plotly.newPlot('chart', traces, layout, {staticPlot: true, displayModeBar: false});
</script></body></html>
